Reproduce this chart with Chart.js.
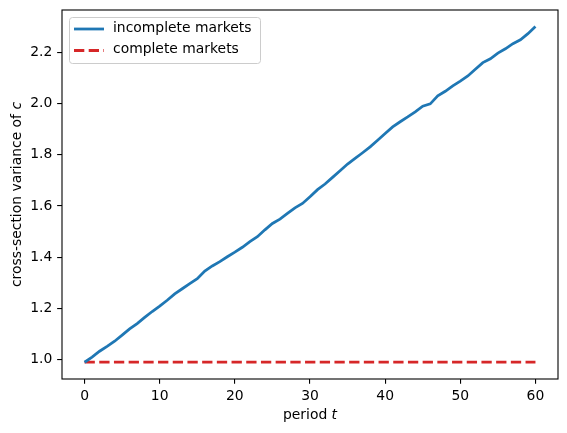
<!DOCTYPE html>
<html>
<head>
<meta charset="utf-8">
<script src="https://cdn.jsdelivr.net/npm/chart.js@4/dist/chart.umd.min.js"></script>
<style>
  html, body { margin: 0; padding: 0; background: #fff; }
  #wrap { width: 567px; height: 433px; }
</style>
</head>
<body>
<div id="wrap"><canvas id="variance" width="567" height="433"></canvas></div>
<script>
// periods t = 0..60
const periods = [
  0, 1, 2, 3, 4, 5, 6, 7, 8, 9, 10, 11, 12, 13, 14, 15, 16, 17, 18, 19, 20,
  21, 22, 23, 24, 25, 26, 27, 28, 29, 30, 31, 32, 33, 34, 35, 36, 37, 38, 39, 40,
  41, 42, 43, 44, 45, 46, 47, 48, 49, 50, 51, 52, 53, 54, 55, 56, 57, 58, 59, 60
];

// cross-section variance of c, incomplete markets
const incomplete = [
  0.990, 1.010, 1.033, 1.052, 1.072, 1.096, 1.120, 1.141, 1.165, 1.188, 1.209,
  1.232, 1.257, 1.277, 1.297, 1.316, 1.346, 1.366, 1.383, 1.402, 1.420,
  1.439, 1.461, 1.480, 1.507, 1.532, 1.549, 1.571, 1.593, 1.610, 1.636,
  1.664, 1.686, 1.712, 1.738, 1.764, 1.786, 1.808, 1.831, 1.857, 1.883,
  1.909, 1.929, 1.948, 1.968, 1.990, 1.999, 2.030, 2.048, 2.069, 2.088,
  2.108, 2.134, 2.160, 2.175, 2.197, 2.214, 2.234, 2.249, 2.273, 2.301
];

// complete markets: variance stays put
const complete = [
  0.99, 0.99, 0.99, 0.99, 0.99, 0.99, 0.99, 0.99, 0.99, 0.99, 0.99,
  0.99, 0.99, 0.99, 0.99, 0.99, 0.99, 0.99, 0.99, 0.99, 0.99,
  0.99, 0.99, 0.99, 0.99, 0.99, 0.99, 0.99, 0.99, 0.99, 0.99,
  0.99, 0.99, 0.99, 0.99, 0.99, 0.99, 0.99, 0.99, 0.99, 0.99,
  0.99, 0.99, 0.99, 0.99, 0.99, 0.99, 0.99, 0.99, 0.99, 0.99,
  0.99, 0.99, 0.99, 0.99, 0.99, 0.99, 0.99, 0.99, 0.99, 0.99
];

const xTicks = [0, 10, 20, 30, 40, 50, 60];
const yTicks = [1.0, 1.2, 1.4, 1.6, 1.8, 2.0, 2.2];

const FONT = 'DejaVu Sans';
const FS = 13.9;
const TICK = 4.86;

// frame round the plot area, matplotlib style
const frame = {
  id: 'frame',
  afterDatasetsDraw(chart) {
    const { ctx, chartArea: a } = chart;
    ctx.save();
    ctx.strokeStyle = '#000';
    ctx.lineWidth = 1.1;
    ctx.strokeRect(a.left, a.top, a.right - a.left, a.bottom - a.top);
    ctx.restore();
  }
};

// axis titles with an italic variable name
function drawParts(ctx, parts, cx, cy) {
  let total = 0;
  parts.forEach(p => { ctx.font = p[1]; total += ctx.measureText(p[0]).width; });
  let x = cx - total / 2;
  parts.forEach(p => {
    ctx.font = p[1];
    ctx.fillText(p[0], x, cy);
    x += ctx.measureText(p[0]).width;
  });
}

const axisTitles = {
  id: 'axisTitles',
  afterDraw(chart) {
    const { ctx, chartArea: a } = chart;
    const normal = FS + 'px "' + FONT + '"';
    const italic = 'oblique ' + FS + 'px "' + FONT + '"';
    ctx.save();
    ctx.fillStyle = '#000';
    ctx.textAlign = 'left';
    ctx.textBaseline = 'middle';
    drawParts(ctx, [['period ', normal], ['t', italic]], (a.left + a.right) / 2, a.bottom + 36);
    ctx.translate(17, (a.top + a.bottom) / 2);
    ctx.rotate(-Math.PI / 2);
    drawParts(ctx, [['cross-section variance of ', normal], ['c', italic]], 0, 0);
    ctx.restore();
  }
};

// legend box in the upper left corner
const boxLegend = {
  id: 'boxLegend',
  afterDraw(chart) {
    const { ctx, chartArea: a } = chart;
    const x0 = a.left + 7, y0 = a.top + 7, w = 191, h = 46;
    ctx.save();
    ctx.beginPath();
    ctx.roundRect(x0 + 0.5, y0 + 0.5, w, h, 3);
    ctx.fillStyle = 'rgba(255,255,255,0.8)';
    ctx.fill();
    ctx.strokeStyle = '#cccccc';
    ctx.lineWidth = 1;
    ctx.stroke();
    const rows = [a.top + 19, a.top + 40.5];
    chart.data.datasets.forEach((ds, i) => {
      const y = rows[i];
      ctx.beginPath();
      ctx.setLineDash(ds.borderDash || []);
      ctx.strokeStyle = ds.borderColor;
      ctx.lineWidth = ds.borderWidth;
      ctx.moveTo(x0 + 5, y);
      ctx.lineTo(x0 + 35, y);
      ctx.stroke();
      ctx.setLineDash([]);
      ctx.fillStyle = '#000';
      ctx.font = FS + 'px "' + FONT + '"';
      ctx.textBaseline = 'middle';
      ctx.fillText(ds.label, x0 + 44, y - 1);
    });
    ctx.restore();
  }
};

const varianceData = {
  labels: periods,
  datasets: [
    {
      label: 'incomplete markets',
      data: incomplete,
      borderColor: '#1f77b4',
      borderWidth: 2.78,
      pointRadius: 0,
      tension: 0,
      fill: false
    },
    {
      label: 'complete markets',
      data: complete,
      borderColor: '#d62728',
      borderWidth: 2.78,
      borderDash: [10.3, 4.4],
      pointRadius: 0,
      tension: 0,
      fill: false
    }
  ]
};

const varianceConfig = {
  type: 'line',
  data: varianceData,
  options: {
    responsive: false,
    animation: false,
    devicePixelRatio: 1,
    layout: { padding: { top: 10, right: 9, left: 0, bottom: 0 } },
    plugins: {
      legend: { display: false },
      tooltip: { enabled: false }
    },
    scales: {
      x: {
        type: 'linear',
        min: -3,
        max: 63,
        afterBuildTicks: (scale) => { scale.ticks = xTicks.map(v => ({ value: v })); },
        afterFit: (scale) => {
          scale.height = 54;
          scale.paddingLeft = 0;
          scale.paddingRight = 0;
        },
        border: { display: false },
        grid: { drawOnChartArea: false, drawTicks: true, tickLength: TICK, color: '#000', lineWidth: 1.1 },
        ticks: {
          color: '#000',
          padding: 4,
          maxRotation: 0,
          font: { family: FONT, size: FS },
          callback: (v) => String(v)
        }
      },
      y: {
        min: 0.9245,
        max: 2.3655,
        afterBuildTicks: (scale) => { scale.ticks = yTicks.map(v => ({ value: v })); },
        afterFit: (scale) => {
          scale.width = 62;
          scale.paddingTop = 0;
          scale.paddingBottom = 0;
        },
        border: { display: false },
        grid: { drawOnChartArea: false, drawTicks: true, tickLength: TICK, color: '#000', lineWidth: 1.1 },
        ticks: {
          color: '#000',
          padding: TICK,
          font: { family: FONT, size: FS },
          callback: (v) => Number(v).toFixed(1)
        }
      }
    }
  },
  plugins: [frame, axisTitles, boxLegend]
};

const varianceChart = new Chart(
  document.getElementById('variance'),
  varianceConfig
);
</script>
</body>
</html>
